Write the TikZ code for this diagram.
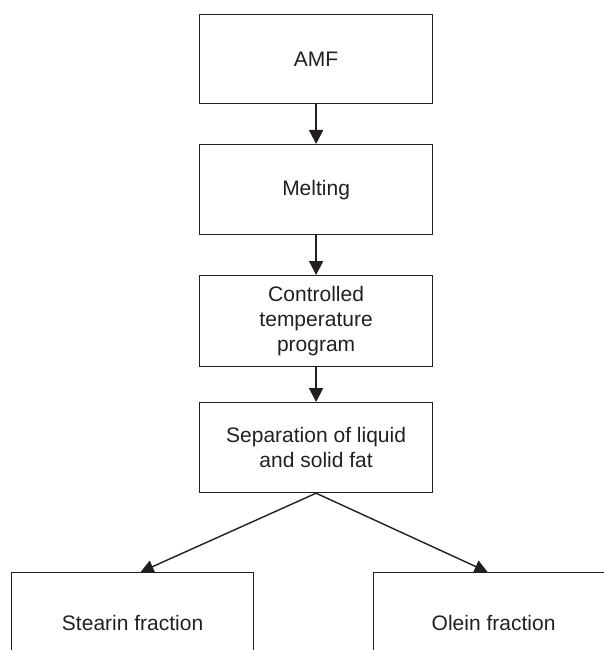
\documentclass[tikz,border=0pt]{standalone}
\usepackage{fontspec}
\setmainfont{Liberation Sans}
\usetikzlibrary{arrows.meta,calc}
\definecolor{ink}{RGB}{35,31,32}
\begin{document}
\begin{tikzpicture}[x=1pt,y=-1pt,
  stepbox/.style={draw=ink, line width=1.2pt, text=ink, align=center,
    inner sep=0pt, font=\fontsize{21}{25}\selectfont, anchor=north west},
  flow/.style={draw=ink, line width=2pt, -{Triangle[length=14pt,width=14pt]}},
  split/.style={draw=ink, line width=1.4pt, -{Triangle[length=13pt,width=13pt]}}]
\useasboundingbox (0,0) rectangle (604,650);

% process chain
\node[stepbox, minimum width=233pt, minimum height=89pt] (amf)  at (199,14)  {AMF};
\node[stepbox, minimum width=233pt, minimum height=90pt] (melt) at (199,144) {Melting};
\node[stepbox, minimum width=233pt, minimum height=91pt] (temp) at (199,275) {Controlled\\temperature\\program};
\node[stepbox, minimum width=233pt, minimum height=90pt] (sep)  at (199,402) {Separation of liquid\\and solid fat};

% the two fractions (their lower parts run past the page edge)
\node[stepbox, minimum width=242pt, minimum height=100pt] (stearin) at (11,572)  {Stearin fraction};
\node[stepbox, minimum width=240pt, minimum height=100pt] (olein)   at (373,572) {Olein fraction};

\draw[flow] (amf) -- (melt);
\draw[flow] (melt) -- (temp);
\draw[flow] (temp) -- (sep);
\draw[split] (sep.south) -- ([xshift=8pt]stearin.north);
\draw[split] (sep.south) -- ([xshift=-6pt]olein.north);
\end{tikzpicture}
\end{document}
